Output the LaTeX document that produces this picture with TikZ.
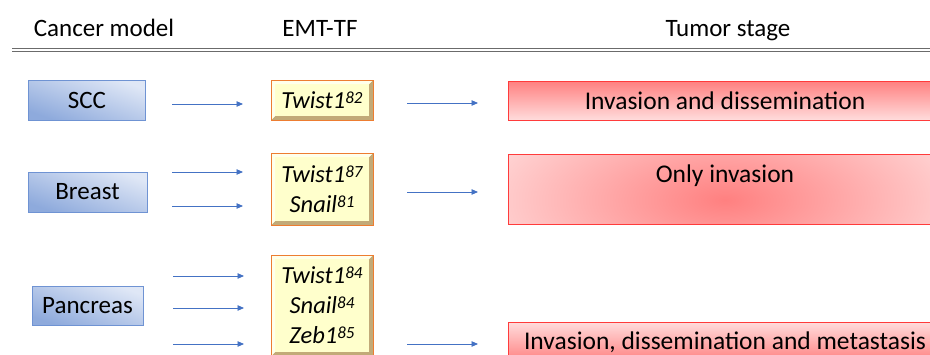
\documentclass[tikz,border=0pt]{standalone}
\usepackage{fontspec}
\setmainfont{Carlito}
\usetikzlibrary{arrows.meta}

\definecolor{flowblue}{HTML}{4472C4}
\definecolor{modelline}{HTML}{6F93D3}
\definecolor{modeldark}{HTML}{8EAADC}
\definecolor{modellight}{HTML}{DFE7F6}
\definecolor{tfyellow}{HTML}{FFFFCC}
\definecolor{tforange}{HTML}{ED7D31}
\definecolor{tfdark}{HTML}{C2AA78}
\definecolor{tflight}{HTML}{FFFFEA}
\definecolor{stageline}{HTML}{FF3B3B}
\definecolor{stagedark}{HTML}{FF8080}
\definecolor{stagelight}{HTML}{FFDCDC}
\definecolor{rulegray}{HTML}{6B6B6B}

% superscript reference number
\newcommand{\tfref}[1]{\raisebox{5pt}{\fontsize{17}{17}\selectfont\itshape #1}}

\tikzset{
	headtext/.style={anchor=base, font=\fontsize{25}{30}\selectfont},
	modelbox/.style={draw=modelline, line width=0.8pt, top color=modellight, bottom color=modeldark, shading angle=-20, minimum height=40pt, inner sep=0pt, font=\fontsize{25}{30}\selectfont},
	tfbox/.style={draw=tforange, line width=0.8pt, fill=tfyellow, minimum width=102pt, inner sep=0pt, align=center, font=\fontsize{24.5}{30}\selectfont\itshape,
		path picture={
			\fill[tfdark] (path picture bounding box.south west) -- (path picture bounding box.south east) -- (path picture bounding box.north east) -- ([shift={(-4pt,-4pt)}]path picture bounding box.north east) -- ([shift={(-4pt,4pt)}]path picture bounding box.south east) -- ([shift={(4pt,4pt)}]path picture bounding box.south west) -- cycle;
			\fill[tflight] (path picture bounding box.south west) -- (path picture bounding box.north west) -- (path picture bounding box.north east) -- ([shift={(-4pt,-4pt)}]path picture bounding box.north east) -- ([shift={(4pt,-4pt)}]path picture bounding box.north west) -- ([shift={(4pt,4pt)}]path picture bounding box.south west) -- cycle;
		}},
	stagebox/.style={draw=stageline, line width=1pt, minimum width=434pt, inner sep=0pt, font=\fontsize{25.5}{30}\selectfont},
	glow/.style={fill=stagelight, path picture={
			\shade[inner color=stagedark, outer color=stagelight] ([yshift=-11pt]path picture bounding box.center) ellipse [x radius=270pt, y radius=115pt];
		}},
	flow/.style={draw=flowblue, line width=0.9pt, -{Triangle[length=6.5pt,width=5.5pt]}}
}

\begin{document}
\begin{tikzpicture}[x=1pt, y=-1pt]
	\useasboundingbox (0,0) rectangle (930,354);
	\clip (0,0) rectangle (930,354);

	% header
	\node [headtext] (hmodel) at (104,36) {Cancer model};
	\node [headtext] (htf) at (320,36) {EMT-TF};
	\node [headtext] (hstage) at (728,36) {Tumor stage};
	\draw [rulegray, line width=0.8pt] (12,48.2) -- (930,48.2);
	\draw [rulegray, line width=0.8pt] (12,51.2) -- (930,51.2);

	% cancer models
	\node [modelbox, minimum width=117pt] (scc) at (87,100) {SCC};
	\node [modelbox, minimum width=119pt] (breast) at (87.5,192) {Breast};
	\node [modelbox, minimum width=111pt, minimum height=39pt] (pancreas) at (87.5,305.5) {Pancreas};

	% transcription factors
	\node [tfbox, minimum height=40pt] (tfscc) at (322,100) {Twist1\tfref{82}};
	\node [tfbox, minimum height=72pt] (tfbreast) at (322,189) {Twist1\tfref{87}\\Snail\tfref{81}};
	\node [tfbox, minimum height=101pt] (tfpancreas) at (322,305.5) {Twist1\tfref{84}\\Snail\tfref{84}\\Zeb1\tfref{85}};

	% tumor stages
	\node [stagebox, minimum height=39pt, top color=stagedark, bottom color=stagelight] (stscc) at (725,100.5) {Invasion and dissemination};
	\node [stagebox, glow, minimum height=70pt] (stbreast) at (725,189) {};
	\node [anchor=base, font=\fontsize{25.5}{30}\selectfont] (stbreasttext) at (725,182) {Only invasion};
	\node [stagebox, minimum height=40pt, top color=stagelight, bottom color=stagedark] (stpancreas) at (725,342) {Invasion, dissemination and metastasis};

	% arrow ends
	\coordinate (m1a) at (172,104);  \coordinate (m1b) at (243,104);
	\coordinate (m2a) at (172,172);  \coordinate (m2b) at (243,172);
	\coordinate (m3a) at (172,206);  \coordinate (m3b) at (243,206);
	\coordinate (m4a) at (173,276);  \coordinate (m4b) at (244,276);
	\coordinate (m5a) at (173,308);  \coordinate (m5b) at (244,308);
	\coordinate (m6a) at (173,344);  \coordinate (m6b) at (244,344);
	\coordinate (s1a) at (407,103);  \coordinate (s1b) at (478,103);
	\coordinate (s2a) at (407,192);  \coordinate (s2b) at (478,192);
	\coordinate (s3a) at (407,344);  \coordinate (s3b) at (478,344);

	\draw [flow] (m1a) -- (m1b);
	\draw [flow] (m2a) -- (m2b);
	\draw [flow] (m3a) -- (m3b);
	\draw [flow] (m4a) -- (m4b);
	\draw [flow] (m5a) -- (m5b);
	\draw [flow] (m6a) -- (m6b);
	\draw [flow] (s1a) -- (s1b);
	\draw [flow] (s2a) -- (s2b);
	\draw [flow] (s3a) -- (s3b);
\end{tikzpicture}
\end{document}
